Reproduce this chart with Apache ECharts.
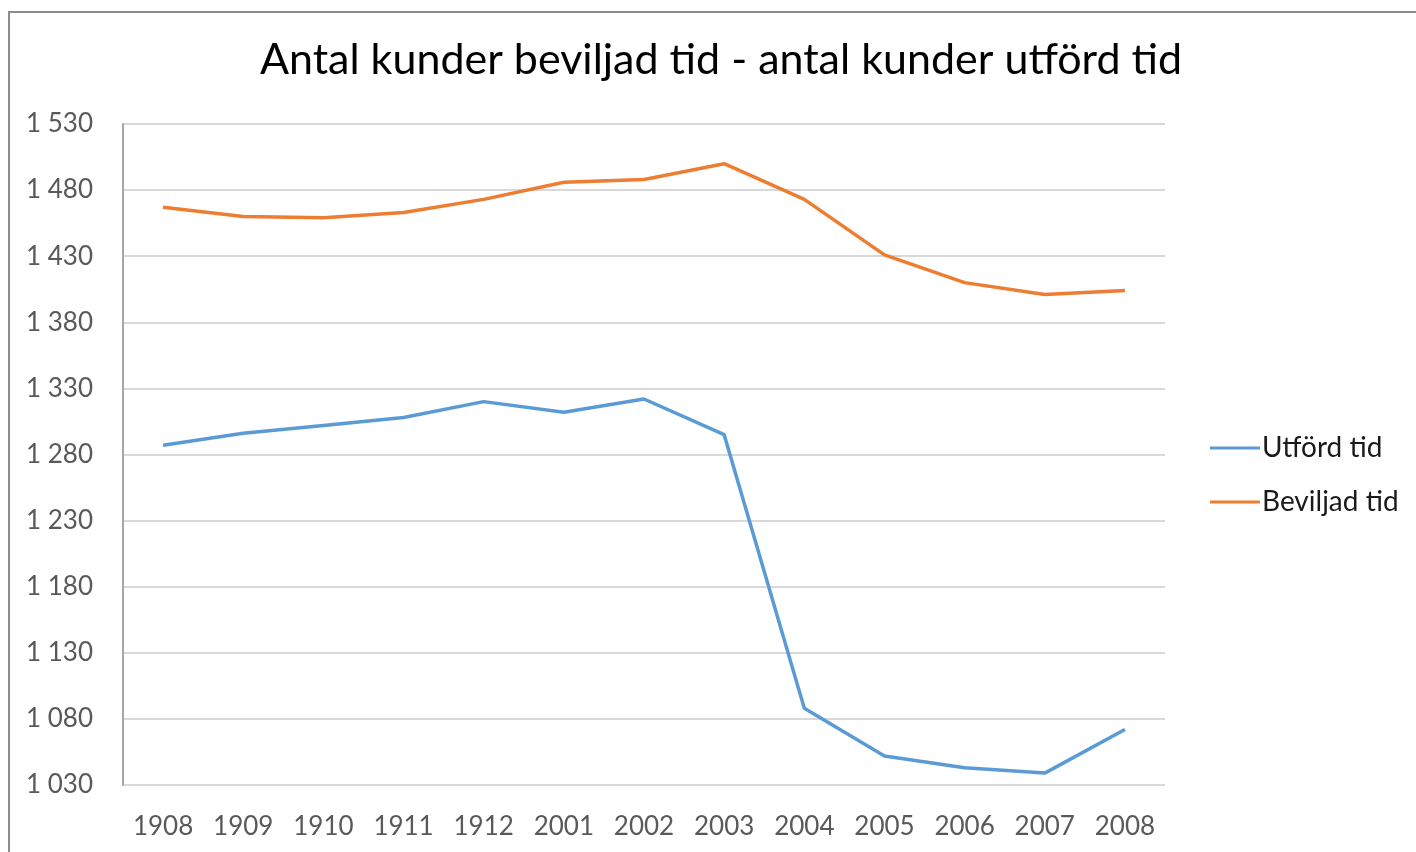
<!DOCTYPE html>
<html>
<head>
<meta charset="utf-8">
<script src="https://cdn.jsdelivr.net/npm/echarts@6/dist/echarts.min.js"></script>
<style>
  html, body { margin: 0; padding: 0; background: #fff; }
  #frame {
    position: absolute; left: 8px; top: 11px; width: 1420px; height: 860px;
    border-left: 2px solid #8c8c8c; border-top: 2px solid #8c8c8c;
  }
  #main { position: absolute; left: 0; top: 0; width: 1416px; height: 852px; }
</style>
</head>
<body>
<div id="frame"></div>
<div id="main"></div>
<script>
// kategorier (år) och värden
var years = ['1908', '1909', '1910', '1911', '1912', '2001', '2002', '2003', '2004', '2005', '2006', '2007', '2008']
var utford = [1287, 1296, 1302, 1308, 1320, 1312, 1322, 1295, 1088, 1052, 1043, 1039, 1072]
var beviljad = [1467, 1460, 1459, 1463, 1473, 1486, 1488, 1500, 1473, 1431, 1410, 1401, 1404]

var yMin = 1030
var yMax = 1530
var yStep = 50

var font = 'Lato, "Open Sans", sans-serif'

var myChart = echarts.init(document.getElementById('main'))

// formatera 1530 -> "1 530"
function fmt(v) {
  return String(v).replace(/\B(?=(\d{3})+(?!\d))/g, ' ')
}

var option = {
  backgroundColor: 'transparent',
  animation: false,
  title: {
    text: 'Antal kunder beviljad tid - antal kunder utförd tid',
    left: 716,
    textAlign: 'center',
    top: 34,
    textStyle: {
      fontFamily: font,
      fontSize: 43,
      fontWeight: 'normal',
      color: '#000'
    }
  },
  grid: {
    left: 123,
    right: 251,
    top: 124,
    bottom: 67,
    containLabel: false
  },
  legend: {
    orient: 'vertical',
    left: 1205,
    top: 429,
    itemGap: 26,
    itemWidth: 50,
    itemHeight: 3,
    icon: 'rect',
    textStyle: {
      fontFamily: font,
      fontSize: 28,
      color: '#1a1a1a',
      padding: [0, 0, 0, -3]
    },
    data: ['Utförd tid', 'Beviljad tid']
  },
  xAxis: {
    type: 'category',
    data: years,
    boundaryGap: true,
    axisLine: { show: false },
    axisTick: { show: false },
    axisLabel: {
      fontFamily: font,
      fontSize: 26,
      color: '#595959',
      margin: 29
    }
  },
  yAxis: {
    type: 'value',
    min: yMin,
    max: yMax,
    interval: yStep,
    axisLine: { show: true, lineStyle: { color: '#a6a6a6', width: 2 } },
    axisTick: { show: false },
    axisLabel: {
      fontFamily: font,
      fontSize: 26,
      color: '#595959',
      margin: 30,
      formatter: fmt
    },
    splitLine: { lineStyle: { color: '#d9d9d9', width: 2 } }
  },
  series: [
    {
      name: 'Utförd tid',
      type: 'line',
      data: utford,
      showSymbol: false,
      symbol: 'none',
      lineStyle: { color: '#5b9bd5', width: 3.5 },
      itemStyle: { color: '#5b9bd5' }
    },
    {
      name: 'Beviljad tid',
      type: 'line',
      data: beviljad,
      showSymbol: false,
      symbol: 'none',
      lineStyle: { color: '#ed7d31', width: 3.5 },
      itemStyle: { color: '#ed7d31' }
    }
  ]
}
myChart.setOption(option)
</script>
</body>
</html>
